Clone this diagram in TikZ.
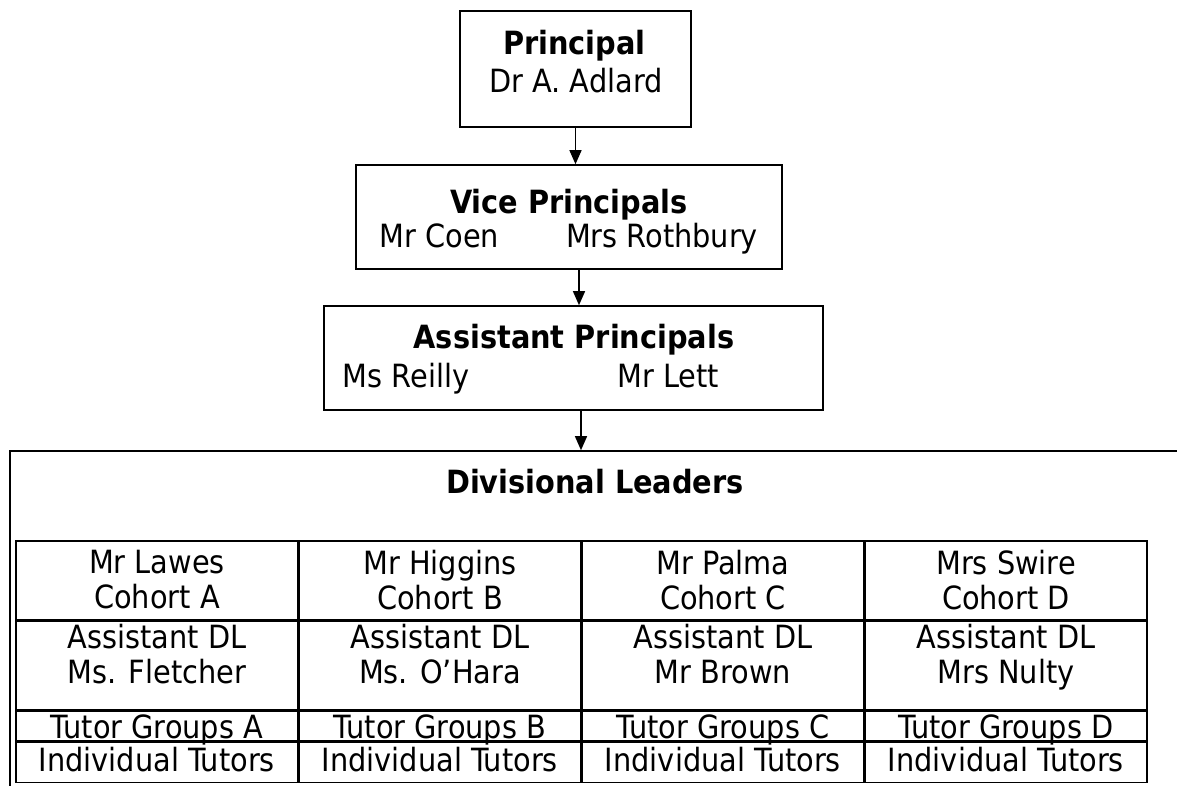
\documentclass[tikz,border=0pt]{standalone}
\usepackage{fontspec}
\IfFontExistsTF{DejaVu Sans Condensed}
  {\setmainfont{DejaVu Sans Condensed}}
  {\setmainfont{DejaVu Sans}}
\usetikzlibrary{positioning,arrows.meta}

\begin{document}
\begin{tikzpicture}[x=1pt,y=-1pt]
\tikzstyle{obj}=[draw, rectangle, line width=1.6pt, inner sep=0pt];
\tikzstyle{txt}=[inner sep=0pt, anchor=base, font=\fontsize{32}{35}\selectfont];
\tikzstyle{cell}=[inner sep=0pt, anchor=north, align=center, font=\fontsize{32}{35}\selectfont];
\clip (0,0) rectangle (1177,785);
\begin{scope}[>={Triangle[length=14pt,width=12pt]}]
  % top of the tree
  \node (principal) at (575.5,69) [obj, minimum width=231, minimum height=116]{};
  \node (principaltitle) at (574.5,54) [txt]{\textbf{Principal}};
  \node (principalname) at (576,92) [txt]{Dr A. Adlard};

  \node (vice) at (569,217) [obj, minimum width=426, minimum height=104]{};
  \node (vicetitle) at (569,213) [txt]{\textbf{Vice Principals}};
  \node (coen) at (439.5,247) [txt]{Mr Coen};
  \node (rothbury) at (662,247) [txt]{Mrs Rothbury};

  \node (assistant) at (573.5,358) [obj, minimum width=499, minimum height=104]{};
  \node (assistanttitle) at (574,348) [txt]{\textbf{Assistant Principals}};
  \node (reilly) at (406,387) [txt]{Ms Reilly};
  \node (lett) at (668,387) [txt]{Mr Lett};

  % divisional leaders
  \node (leaders) at (610,626) [obj, minimum width=1200, minimum height=350]{};
  \node (leaderstitle) at (595,493) [txt]{\textbf{Divisional Leaders}};

  \foreach \x/\lead/\adl/\c [count=\i] in {157/Mr Lawes/Ms. Fletcher/A,
      440/Mr Higgins/Ms. O'Hara/B, 723/Mr Palma/Mr Brown/C, 1006/Mrs Swire/Mrs Nulty/D}{
    \node (lead\i) at (\x,540) [obj, anchor=north, minimum width=282.5, minimum height=79]{};
    \node (adl\i) [obj, anchor=north, minimum width=282.5, minimum height=88] at (lead\i.south){};
    \node (tg\i) [obj, anchor=north, minimum width=282.5, minimum height=30] at (adl\i.south){};
    \node (it\i) [obj, anchor=north, minimum width=282.5, minimum height=40] at (tg\i.south){};
    \node (leadtxt\i) [cell, below=10pt of lead\i.north]{\lead\\Cohort \c};
    \node (adltxt\i) [cell, below=3pt of adl\i.north]{Assistant DL\\\adl};
    \node (tgtxt\i) [cell, below=4pt of tg\i.north]{Tutor Groups \c};
    \node (ittxt\i) [cell, below=5pt of it\i.north]{Individual Tutors};
  }

  \draw[->, line width=1.4pt] (principal.south) -- (principal.south |- vice.north);
  \draw[->, line width=1.4pt] ([xshift=10pt]vice.south) -- ([xshift=10pt]vice.south |- assistant.north);
  \draw[->, line width=1.4pt] ([xshift=7.5pt]assistant.south) -- ([xshift=7.5pt]assistant.south |- leaders.north);
\end{scope}
\end{tikzpicture}
\end{document}
